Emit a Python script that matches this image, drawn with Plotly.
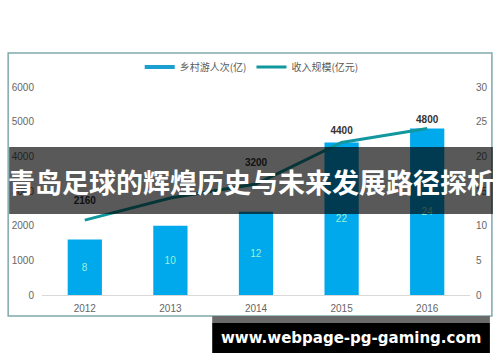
import plotly.graph_objects as go

years = ["2012", "2013", "2014", "2015", "2016"]
visitors = [8, 10, 12, 22, 24]            # 乡村游人次(亿) - bars, right axis
revenue = [2160, 2800, 3200, 4400, 4800]  # 收入规模(亿元) - line, left axis
revenue_labels = ["2160", "", "3200", "4400", "4800"]
left_ticks = [0, 1000, 2000, 3000, 4000, 5000, 6000]
right_ticks = [0, 5, 10, 15, 20, 25, 30]

title_text = "青岛足球的辉煌历史与未来发展路径探析"
site_text = "www.webpage-pg-gaming.com"

W, H = 500, 362
L, R, T, B = 40, 470, 87, 295


def px(x):
    return (x - L) / (R - L)


def py(y):
    return (B - y) / (B - T)


BAR_BLUE = "#00a8ec"
LINE_TEAL = "#12979f"
CJK = "Noto Sans CJK SC"

fig = go.Figure()

fig.add_trace(go.Bar(
    x=years, y=visitors, yaxis="y", marker=dict(color=BAR_BLUE, line=dict(width=0)),
    width=0.4, text=[str(v) for v in visitors], textposition="inside",
    insidetextanchor="middle", textangle=0, constraintext="none",
    textfont=dict(color="#9ff0d2", size=10, family="Liberation Sans"),
    showlegend=False, name="乡村游人次(亿)", cliponaxis=False,
))

fig.add_trace(go.Scatter(
    x=years, y=revenue, yaxis="y2", mode="lines+markers+text",
    line=dict(color=LINE_TEAL, width=3),
    # invisible markers only used to space the value labels above the points
    marker=dict(size=[20, 0, 24, 8, 4], color="rgba(0,0,0,0)", line=dict(width=0)),
    text=revenue_labels,
    textposition="top center",
    textfont=dict(color="#333333", size=10, family="Liberation Sans", weight="bold"),
    showlegend=False, name="收入规模(亿元)", cliponaxis=False,
))

# legend-only entries (line-shaped icons as in the reference)
fig.add_trace(go.Scatter(x=[None], y=[None], mode="lines", name="乡村游人次(亿)",
                         line=dict(color="#1a9fd0", width=4), yaxis="y"))
fig.add_trace(go.Scatter(x=[None], y=[None], mode="lines", name="收入规模(亿元)",
                         line=dict(color=LINE_TEAL, width=3), yaxis="y2"))

axis_font = dict(family="Liberation Sans", size=10, color="#666666")

fig.update_layout(
    width=W, height=H,
    margin=dict(l=L, r=W - R, t=T, b=H - B, pad=0),
    paper_bgcolor="white", plot_bgcolor="white",
    bargap=0.6,
    xaxis=dict(type="category", showgrid=False, zeroline=False, showline=True,
               linecolor="#d9d9d9", linewidth=1, ticks="", tickfont=axis_font,
               ticklabelstandoff=4),
    yaxis=dict(range=[0, 30], tickvals=right_ticks, side="right", showgrid=False,
               zeroline=False, showline=False, ticks="", tickfont=axis_font,
               ticklabelstandoff=5),
    yaxis2=dict(range=[0, 6000], tickvals=left_ticks, side="left", overlaying="y",
                showgrid=False, zeroline=False, showline=False, ticks="",
                tickfont=axis_font, ticklabelstandoff=7),
    legend=dict(orientation="h", x=0.49, xanchor="center", y=py(67), yanchor="middle",
                font=dict(family=CJK, size=10, color="#595959"), itemwidth=30,
                bgcolor="rgba(0,0,0,0)"),
    showlegend=True,
)

shapes = [
    # chart frame
    dict(type="rect", xref="paper", yref="paper", x0=px(6), x1=px(492), y0=py(316), y1=py(53),
         line=dict(color="#7fa9aa", width=1.5), fillcolor="rgba(0,0,0,0)", layer="below"),
    # title banner (semi-transparent dark overlay)
    dict(type="rect", xref="paper", yref="paper", x0=px(7), x1=px(493), y0=py(214), y1=py(147),
         line=dict(width=0), fillcolor="rgba(0,0,0,0.65)", layer="above"),
    # bottom site banner
    dict(type="rect", xref="paper", yref="paper", x0=px(211), x1=px(490), y0=py(323), y1=py(316),
         line=dict(width=0), fillcolor="#6a6a6a", layer="above"),
    dict(type="rect", xref="paper", yref="paper", x0=px(211), x1=px(490), y0=py(353), y1=py(323),
         line=dict(width=0), fillcolor="#000000", layer="above"),
]
fig.update_layout(shapes=shapes)

fig.add_annotation(xref="paper", yref="paper", x=px(250), y=py(181), text=title_text,
                   showarrow=False, xanchor="center", yanchor="middle",
                   font=dict(family=CJK, size=27, color="white", weight="bold"))
fig.add_annotation(xref="paper", yref="paper", x=px(350), y=py(338), text=site_text,
                   showarrow=False, xanchor="center", yanchor="middle",
                   font=dict(family="DejaVu Sans", size=15, color="white", weight="bold"))

fig.write_html(
    "out.html",
    config={"displayModeBar": False},
    post_script="document.body.style.margin='0';document.body.style.overflow='hidden';",
)
